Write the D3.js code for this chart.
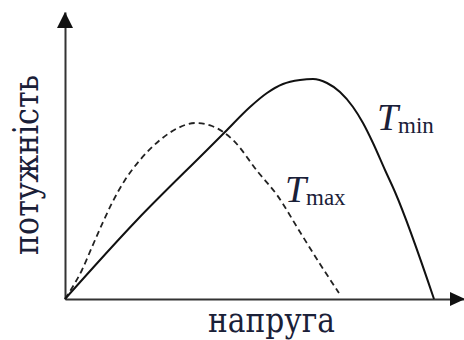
<!DOCTYPE html>
<html>
<head>
<meta charset="utf-8">
<script src="https://cdn.jsdelivr.net/npm/d3@7"></script>
<style>
  body { margin: 0; background: #fff; }
  svg { display: block; }
  text { font-family: "Liberation Serif", "DejaVu Serif", serif; fill: #1a2038; }
  text.cyr { font-family: "DejaVu Serif", "Liberation Serif", serif; }
</style>
</head>
<body>
<div id="chart"></div>
<script>
// voltage / power readings for the two temperatures (arbitrary units)
const minVoltage = [0, 72, 142, 160, 185, 202, 218, 235, 248, 262, 275, 288, 298, 308, 320, 330, 369];
const minPower   = [0, 79, 149, 167, 192, 206, 215, 219, 220, 216, 207, 192, 176, 156, 129, 107, 0];

const maxVoltage = [0, 7, 17, 27, 38, 47, 60, 75, 95, 113, 130, 147, 168, 193, 212, 235, 255, 274];
const maxPower   = [0, 11, 29, 52, 77, 96, 119, 139, 159, 171, 176, 173, 159, 127, 104, 67, 35, 6];

const xLabel = "напруга";
const yLabel = "потужність";

var width = 464, height = 340;

var svg = d3.select("#chart")
  .append("svg")
    .attr("width", width)
    .attr("height", height);

// scales
var x = d3.scaleLinear().domain([0, 400]).range([65, 465]);
var y = d3.scaleLinear().domain([0, 287]).range([299, 12]);

// axes without ticks, just the lines
svg.append("g")
    .attr("transform", `translate(0,${y(0)})`)
    .call(d3.axisBottom(x).tickValues([]).tickSizeOuter(0))
    .select(".domain")
      .attr("stroke", "#333")
      .attr("stroke-width", 2);

svg.append("g")
    .attr("transform", `translate(${x(0)},0)`)
    .call(d3.axisLeft(y).tickValues([]).tickSizeOuter(0))
    .select(".domain")
      .attr("stroke", "#333")
      .attr("stroke-width", 2);

// arrow heads at the ends of the axes
var ax = x.range()[1], ay = y.range()[1];
svg.append("path")
    .attr("d", `M${ax},${y(0)} L${ax - 15},${y(0) - 7} L${ax - 15},${y(0) + 7} Z`)
    .attr("fill", "#111");
svg.append("path")
    .attr("d", `M${x(0)},${ay} L${x(0) - 8},${ay + 16} L${x(0) + 8},${ay + 16} Z`)
    .attr("fill", "#111");

var line = d3.line()
    .x(d => x(d[0]))
    .y(d => y(d[1]))
    .curve(d3.curveMonotoneX);

// T max - dashed
svg.append("path")
    .datum(d3.zip(maxVoltage, maxPower))
    .attr("fill", "none")
    .attr("stroke", "#222")
    .attr("stroke-width", 1.8)
    .attr("stroke-dasharray", "6,4")
    .attr("d", line);

// T min - solid
svg.append("path")
    .datum(d3.zip(minVoltage, minPower))
    .attr("fill", "none")
    .attr("stroke", "#111")
    .attr("stroke-width", 2)
    .attr("d", line);

// axis titles
svg.append("text")
    .attr("class", "cyr")
    .attr("x", 208)
    .attr("y", 332)
    .attr("textLength", 127)
    .attr("lengthAdjust", "spacingAndGlyphs")
    .style("font-size", "36px")
    .text(xLabel);

svg.append("text")
    .attr("class", "cyr")
    .attr("transform", "translate(38,255) rotate(-90)")
    .attr("textLength", 180)
    .attr("lengthAdjust", "spacingAndGlyphs")
    .style("font-size", "36px")
    .text(yLabel);

// curve labels
function curveLabel(px, py, sub) {
  svg.append("text")
      .attr("x", px)
      .attr("y", py)
      .style("font-size", "38px")
      .style("font-style", "italic")
      .text("T");
  svg.append("text")
      .attr("x", px + 21)
      .attr("y", py + 3)
      .style("font-size", "23px")
      .text(sub);
}
curveLabel(377, 130, "min");
curveLabel(285, 202, "max");
</script>
</body>
</html>
